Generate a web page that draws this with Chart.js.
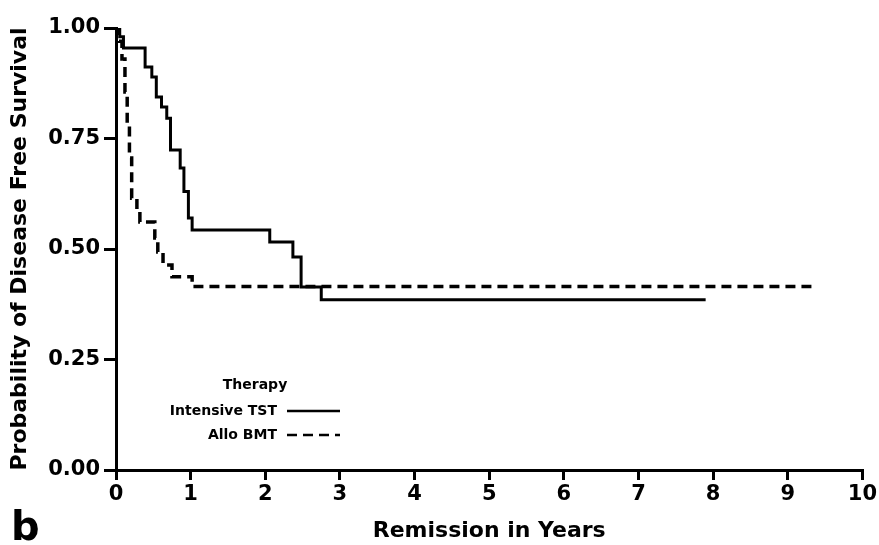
<!DOCTYPE html>
<html>
<head>
<meta charset="utf-8">
<title>Disease free survival</title>
<script src="https://cdn.jsdelivr.net/npm/chart.js@4/dist/chart.umd.min.js"></script>
<style>
    html, body { margin: 0; padding: 0; background: #fff; }
    #wrap { width: 879px; height: 545px; }
</style>
</head>
<body>
<div id="wrap"><canvas id="kmChart" width="879" height="545"></canvas></div>
<script>
// Kaplan-Meier steps (years, survival after the drop)
const tstYears    = [0, 0.05, 0.10, 0.39, 0.48, 0.54, 0.61, 0.68, 0.73, 0.86, 0.91, 0.97, 1.02, 2.06, 2.37, 2.48, 2.75, 7.90];
const tstSurvival = [1.0, 0.98, 0.955, 0.912, 0.889, 0.844, 0.821, 0.796, 0.724, 0.683, 0.63, 0.57, 0.543, 0.516, 0.482, 0.414, 0.385, 0.385];

const bmtYears    = [0, 0.04, 0.08, 0.12, 0.15, 0.18, 0.21, 0.28, 0.32, 0.52, 0.56, 0.63, 0.75, 1.02, 9.35];
const bmtSurvival = [1.0, 0.97, 0.93, 0.855, 0.78, 0.706, 0.615, 0.584, 0.561, 0.525, 0.493, 0.464, 0.437, 0.415, 0.415];

const xTicks = [0, 1, 2, 3, 4, 5, 6, 7, 8, 9, 10];
const yTicks = [0, 0.25, 0.5, 0.75, 1.0];

const FONT = '"DejaVu Sans", "Liberation Sans", sans-serif';

function toPoints(xs, ys) {
    return xs.map((x, i) => ({ x: x, y: ys[i] }));
}

// legend block "Therapy" + panel letter, drawn by hand like the scan
const therapyLegend = {
    id: 'therapyLegend',
    afterDraw(chart) {
        const ctx = chart.ctx;
        ctx.save();
        ctx.fillStyle = '#000';
        ctx.font = 'bold 14px ' + FONT;
        ctx.textBaseline = 'middle';
        ctx.textAlign = 'center';
        ctx.fillText('Therapy', 255, 385);

        chart.data.datasets.forEach((ds, i) => {
            const y = 411 + i * 24;
            ctx.textAlign = 'right';
            ctx.fillText(ds.label, 277, y);
            ctx.strokeStyle = ds.borderColor;
            ctx.lineWidth = 2.5;
            ctx.setLineDash(ds.borderDash || []);
            ctx.beginPath();
            ctx.moveTo(287, y);
            ctx.lineTo(340, y);
            ctx.stroke();
        });

        ctx.setLineDash([]);
        ctx.font = 'bold 40px ' + FONT;
        ctx.textAlign = 'left';
        ctx.textBaseline = 'alphabetic';
        ctx.fillText('b', 11, 540);
        ctx.restore();
    }
};

const kmChart = new Chart(document.getElementById('kmChart'), {
    type: 'line',
    data: {
        datasets: [
            {
                label: 'Intensive TST',
                data: toPoints(tstYears, tstSurvival),
                stepped: 'before',
                borderColor: '#000',
                borderWidth: 3,
                pointRadius: 0,
                fill: false
            },
            {
                label: 'Allo BMT',
                data: toPoints(bmtYears, bmtSurvival),
                stepped: 'before',
                borderColor: '#000',
                borderWidth: 3.5,
                borderDash: [10, 6],
                pointRadius: 0,
                fill: false
            }
        ]
    },
    options: {
        responsive: false,
        animation: false,
        devicePixelRatio: 1,
        layout: { padding: { top: 28, right: 15, bottom: 0, left: 0 } },
        plugins: {
            legend: { display: false },
            tooltip: { enabled: false }
        },
        scales: {
            x: {
                type: 'linear',
                min: 0,
                max: 10,
                afterBuildTicks: (scale) => { scale.ticks = xTicks.map(v => ({ value: v })); },
                afterFit: (scale) => { scale.height = 75; },
                border: { display: true, color: '#000', width: 3 },
                grid: { drawOnChartArea: false, drawTicks: true, tickLength: 10, color: '#000', lineWidth: 3 },
                ticks: {
                    color: '#000',
                    padding: 2,
                    font: { family: FONT, size: 21, weight: 'bold' },
                    callback: (v) => String(v)
                },
                title: {
                    display: true,
                    text: 'Remission in Years',
                    color: '#000',
                    padding: { top: 0, bottom: 1 },
                    font: { family: FONT, size: 22, weight: 'bold' }
                }
            },
            y: {
                type: 'linear',
                min: 0,
                max: 1,
                afterBuildTicks: (scale) => { scale.ticks = yTicks.map(v => ({ value: v })); },
                afterFit: (scale) => { scale.width = 116; },
                border: { display: true, color: '#000', width: 3 },
                grid: { drawOnChartArea: false, drawTicks: true, tickLength: 12, color: '#000', lineWidth: 3 },
                ticks: {
                    color: '#000',
                    padding: 4,
                    font: { family: FONT, size: 21, weight: 'bold' },
                    callback: (v) => Number(v).toFixed(2)
                },
                title: {
                    display: true,
                    text: 'Probability of Disease Free Survival',
                    color: '#000',
                    padding: { top: 7, bottom: 0 },
                    font: { family: FONT, size: 22, weight: 'bold' }
                }
            }
        }
    },
    plugins: [therapyLegend]
});
</script>
</body>
</html>
